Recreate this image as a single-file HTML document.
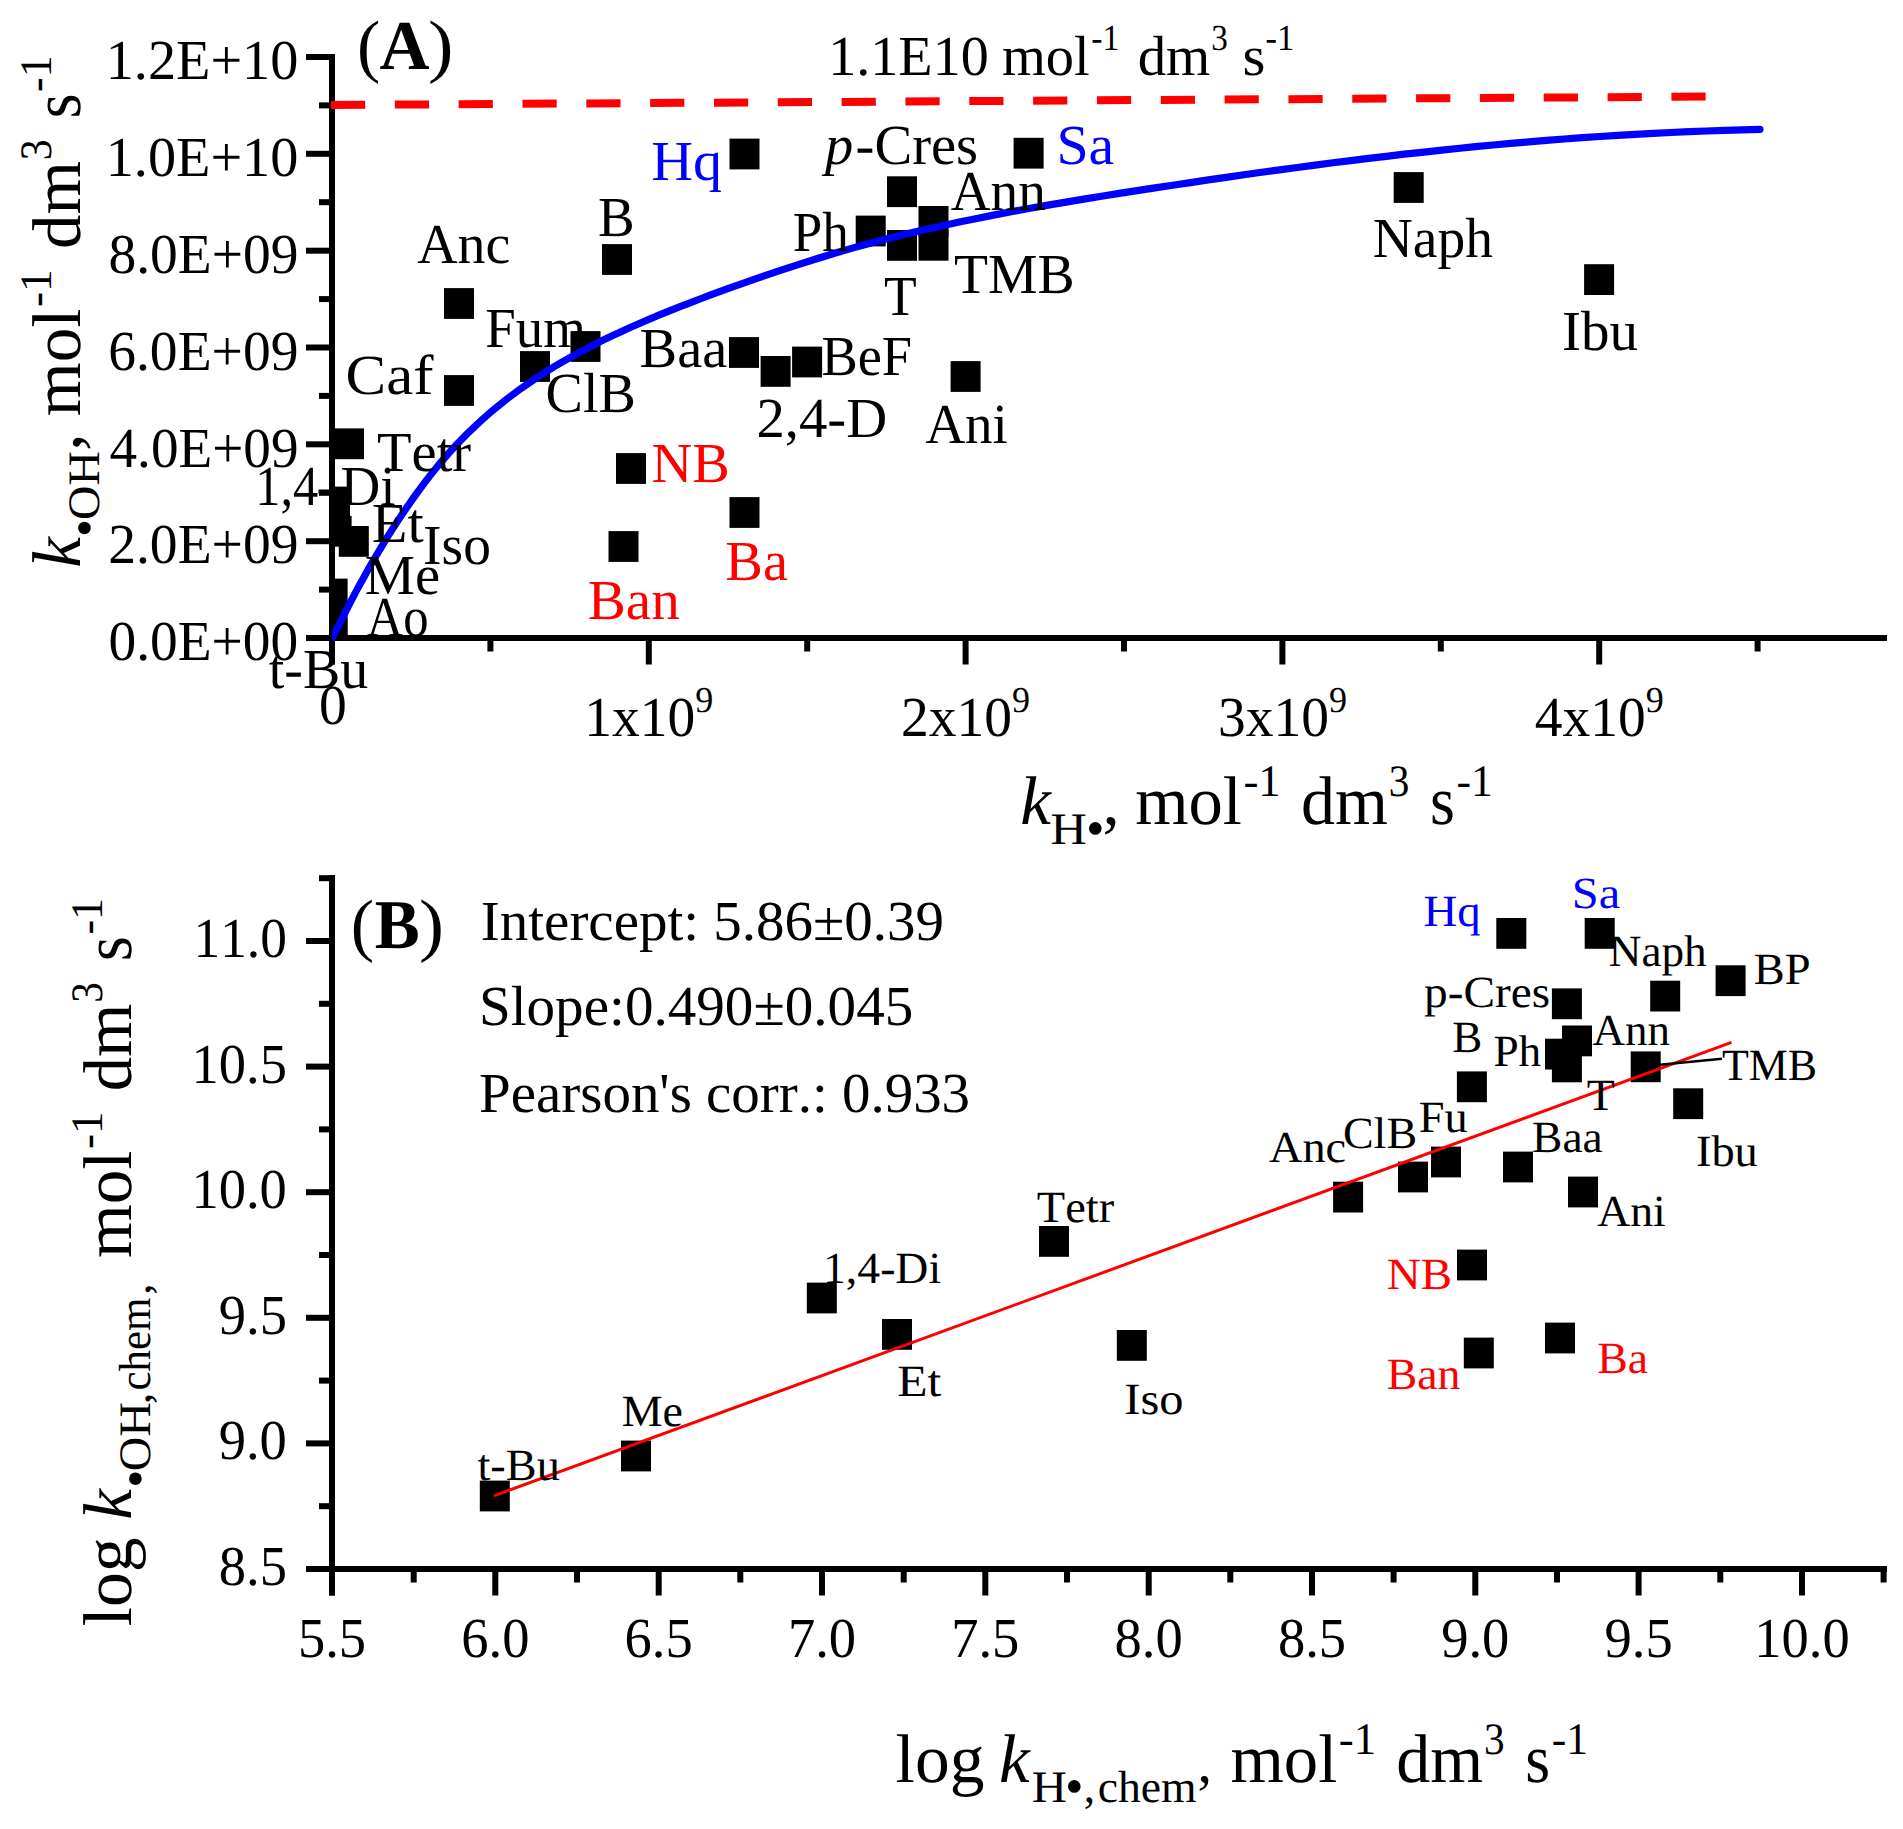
<!DOCTYPE html>
<html lang="en">
<head>
<meta charset="utf-8">
<title>Figure: rate constant correlations</title>
<style>
html,body{margin:0;padding:0;background:#fff;}
body{width:1903px;height:1829px;overflow:hidden;}
svg{display:block;font-family:"Liberation Serif", "DejaVu Serif", serif;font-kerning:none;}
svg text{white-space:pre;}
</style>
</head>
<body>
<svg width="1903" height="1829" viewBox="0 0 1903 1829" text-rendering="geometricPrecision">
<rect x="0" y="0" width="1903" height="1829" fill="#ffffff"/>
<g id="panelA">
<clipPath id="clipA"><rect x="332" y="40" width="1570" height="598"/></clipPath>
<g clip-path="url(#clipA)">
<rect x="729.5" y="138.6" width="30.0" height="30.8" fill="#000"/>
<rect x="602.0" y="244.1" width="30.0" height="30.8" fill="#000"/>
<rect x="444.0" y="288.1" width="30.0" height="30.8" fill="#000"/>
<rect x="444.0" y="375.1" width="30.0" height="30.8" fill="#000"/>
<rect x="520.0" y="351.1" width="30.0" height="30.8" fill="#000"/>
<rect x="570.5" y="331.1" width="30.0" height="30.8" fill="#000"/>
<rect x="729.0" y="337.1" width="30.0" height="30.8" fill="#000"/>
<rect x="760.6" y="356.0" width="30.0" height="30.8" fill="#000"/>
<rect x="792.1" y="346.6" width="30.0" height="30.8" fill="#000"/>
<rect x="855.7" y="215.6" width="30.0" height="30.8" fill="#000"/>
<rect x="887.0" y="176.3" width="30.0" height="30.8" fill="#000"/>
<rect x="887.0" y="230.0" width="30.0" height="30.8" fill="#000"/>
<rect x="918.5" y="206.0" width="30.0" height="30.8" fill="#000"/>
<rect x="918.5" y="229.9" width="30.0" height="30.8" fill="#000"/>
<rect x="334.0" y="428.4" width="30.0" height="30.8" fill="#000"/>
<rect x="1013.6" y="137.8" width="30.0" height="30.8" fill="#000"/>
<rect x="1393.7" y="172.1" width="30.0" height="30.8" fill="#000"/>
<rect x="1584.1" y="264.2" width="30.0" height="30.8" fill="#000"/>
<rect x="950.6" y="361.1" width="30.0" height="30.8" fill="#000"/>
<rect x="616.0" y="453.1" width="30.0" height="30.8" fill="#000"/>
<rect x="729.5" y="497.1" width="30.0" height="30.8" fill="#000"/>
<rect x="608.5" y="531.1" width="30.0" height="30.8" fill="#000"/>
<rect x="320.0" y="486.6" width="30.0" height="30.8" fill="#000"/>
<rect x="321.6" y="515.9" width="30.0" height="30.8" fill="#000"/>
<rect x="338.8" y="526.0" width="30.0" height="30.8" fill="#000"/>
<rect x="317.6" y="578.6" width="30.0" height="30.8" fill="#000"/>
<rect x="317.6" y="608.6" width="30.0" height="30.8" fill="#000"/>
<rect x="317.3" y="618.6" width="30.0" height="30.8" fill="#000"/>
</g>
<rect x="329.0" y="54.0" width="6.0" height="610.5" fill="#000"/>
<rect x="306.0" y="635.0" width="1581.0" height="6.0" fill="#000"/>
<rect x="306.0" y="54.0" width="24.0" height="6.0" fill="#000"/>
<rect x="319.0" y="102.4" width="11.0" height="6.0" fill="#000"/>
<rect x="306.0" y="150.8" width="24.0" height="6.0" fill="#000"/>
<rect x="319.0" y="199.2" width="11.0" height="6.0" fill="#000"/>
<rect x="306.0" y="247.7" width="24.0" height="6.0" fill="#000"/>
<rect x="319.0" y="296.1" width="11.0" height="6.0" fill="#000"/>
<rect x="306.0" y="344.5" width="24.0" height="6.0" fill="#000"/>
<rect x="319.0" y="392.9" width="11.0" height="6.0" fill="#000"/>
<rect x="306.0" y="441.3" width="24.0" height="6.0" fill="#000"/>
<rect x="319.0" y="489.8" width="11.0" height="6.0" fill="#000"/>
<rect x="306.0" y="538.2" width="24.0" height="6.0" fill="#000"/>
<rect x="319.0" y="586.6" width="11.0" height="6.0" fill="#000"/>
<rect x="306.0" y="635.0" width="24.0" height="6.0" fill="#000"/>
<rect x="329.0" y="638.0" width="6.0" height="26.5" fill="#000"/>
<rect x="487.4" y="638.0" width="6.0" height="13.5" fill="#000"/>
<rect x="645.8" y="638.0" width="6.0" height="26.5" fill="#000"/>
<rect x="804.2" y="638.0" width="6.0" height="13.5" fill="#000"/>
<rect x="962.6" y="638.0" width="6.0" height="26.5" fill="#000"/>
<rect x="1121.0" y="638.0" width="6.0" height="13.5" fill="#000"/>
<rect x="1279.4" y="638.0" width="6.0" height="26.5" fill="#000"/>
<rect x="1437.8" y="638.0" width="6.0" height="13.5" fill="#000"/>
<rect x="1596.2" y="638.0" width="6.0" height="26.5" fill="#000"/>
<rect x="1754.6" y="638.0" width="6.0" height="13.5" fill="#000"/>
<text x="105.7" y="79.2" font-size="56.5" textLength="192.7" lengthAdjust="spacingAndGlyphs" >1.2E+10</text>
<text x="105.7" y="176.0" font-size="56.5" textLength="192.7" lengthAdjust="spacingAndGlyphs" >1.0E+10</text>
<text x="108.5" y="272.9" font-size="56.5" textLength="190.0" lengthAdjust="spacingAndGlyphs" >8.0E+09</text>
<text x="108.2" y="369.7" font-size="56.5" textLength="190.3" lengthAdjust="spacingAndGlyphs" >6.0E+09</text>
<text x="109.5" y="466.5" font-size="56.5" textLength="189.0" lengthAdjust="spacingAndGlyphs" >4.0E+09</text>
<text x="108.2" y="563.4" font-size="56.5" textLength="190.3" lengthAdjust="spacingAndGlyphs" >2.0E+09</text>
<text x="108.5" y="660.2" font-size="56.5" textLength="189.8" lengthAdjust="spacingAndGlyphs" >0.0E+00</text>
<text x="318.9" y="724.3" font-size="56.5" textLength="27.8" lengthAdjust="spacingAndGlyphs" >0</text>
<text x="648.8" y="735.6" font-size="56.5" text-anchor="middle" textLength="129" lengthAdjust="spacingAndGlyphs">1x10<tspan dy="-24.1" font-size="36.7">9</tspan></text>
<text x="965.6" y="735.6" font-size="56.5" text-anchor="middle" textLength="129" lengthAdjust="spacingAndGlyphs">2x10<tspan dy="-24.1" font-size="36.7">9</tspan></text>
<text x="1282.4" y="735.6" font-size="56.5" text-anchor="middle" textLength="129" lengthAdjust="spacingAndGlyphs">3x10<tspan dy="-24.1" font-size="36.7">9</tspan></text>
<text x="1599.2" y="735.6" font-size="56.5" text-anchor="middle" textLength="129" lengthAdjust="spacingAndGlyphs">4x10<tspan dy="-24.1" font-size="36.7">9</tspan></text>
<line x1="331" y1="105" x2="1705.6" y2="96.6" stroke="#ff0000" stroke-width="8" stroke-dasharray="34.2 29.63"/>
<clipPath id="clipC"><rect x="332" y="40" width="1570" height="601"/></clipPath>
<polyline clip-path="url(#clipC)" points="332.0,638.0 338.2,626.2 344.5,613.8 350.7,601.7 356.9,589.8 363.2,578.4 369.4,567.3 375.7,556.5 381.9,546.1 388.1,535.9 394.4,526.1 400.6,516.6 406.8,507.4 413.1,498.4 419.3,489.8 425.6,481.4 431.8,473.4 438.0,465.7 444.3,458.3 450.5,451.2 456.7,444.5 463.0,438.0 469.2,431.8 475.5,425.8 481.7,420.1 487.9,414.6 494.2,409.3 500.4,404.2 506.6,399.3 512.9,394.5 519.1,389.9 525.4,385.5 531.6,381.2 537.8,377.0 544.1,373.0 550.3,369.1 556.5,365.3 562.8,361.7 569.0,358.1 575.3,354.6 581.5,351.3 587.7,348.0 594.0,344.8 600.2,341.6 606.4,338.6 612.7,335.6 618.9,332.7 625.2,329.8 631.4,327.0 637.6,324.2 643.9,321.5 650.1,318.9 656.3,316.2 662.6,313.7 668.8,311.1 675.1,308.6 681.3,306.2 687.5,303.8 693.8,301.4 700.0,299.0 710.0,295.2 727.8,288.7 745.6,282.4 763.4,276.2 781.2,270.1 799.0,264.3 816.8,258.7 834.6,253.3 852.4,248.1 870.2,243.2 888.0,238.5 905.8,234.1 923.6,229.9 941.4,225.9 959.2,222.1 976.9,218.4 994.7,214.9 1012.5,211.5 1030.3,208.3 1048.1,205.1 1065.9,202.1 1083.7,199.1 1101.5,196.2 1119.3,193.4 1137.1,190.6 1154.9,187.9 1172.7,185.2 1190.5,182.6 1208.3,179.9 1226.1,177.4 1243.9,174.8 1261.7,172.3 1279.5,169.9 1297.3,167.5 1315.1,165.1 1332.9,162.8 1350.7,160.6 1368.5,158.4 1386.3,156.3 1404.1,154.2 1421.9,152.3 1439.7,150.4 1457.5,148.5 1475.3,146.7 1493.1,145.0 1510.8,143.4 1528.6,141.9 1546.4,140.4 1564.2,139.0 1582.0,137.7 1599.8,136.5 1617.6,135.4 1635.4,134.3 1653.2,133.4 1671.0,132.5 1688.8,131.7 1706.6,131.0 1724.4,130.4 1742.2,129.9 1760.0,129.4" fill="none" stroke="#0000ff" stroke-width="7.2" stroke-linejoin="round" stroke-linecap="round"/>
<text x="651.2" y="179.9" font-size="56.5" fill="#0000ff" textLength="70.8" lengthAdjust="spacingAndGlyphs" >Hq</text>
<text x="1056.4" y="163.8" font-size="56.5" fill="#0000ff" textLength="57.9" lengthAdjust="spacingAndGlyphs" >Sa</text>
<text x="597.9" y="235.6" font-size="56.5" textLength="36.7" lengthAdjust="spacingAndGlyphs" >B</text>
<text x="417.2" y="263.0" font-size="56.5" textLength="93.0" lengthAdjust="spacingAndGlyphs" >Anc</text>
<text x="792.7" y="251.0" font-size="56.5" textLength="56.0" lengthAdjust="spacingAndGlyphs" >Ph</text>
<text x="950.7" y="210.4" font-size="56.5" textLength="95.1" lengthAdjust="spacingAndGlyphs" >Ann</text>
<text x="884.0" y="314.8" font-size="56.5" textLength="32.7" lengthAdjust="spacingAndGlyphs" >T</text>
<text x="954.0" y="292.6" font-size="56.5" textLength="120.7" lengthAdjust="spacingAndGlyphs" >TMB</text>
<text x="485.3" y="346.7" font-size="56.5" textLength="100.6" lengthAdjust="spacingAndGlyphs" >Fum</text>
<text x="639.6" y="366.8" font-size="56.5" textLength="87.7" lengthAdjust="spacingAndGlyphs" >Baa</text>
<text x="821.4" y="374.5" font-size="56.5" textLength="90.7" lengthAdjust="spacingAndGlyphs" >BeF</text>
<text x="345.6" y="393.6" font-size="56.5" textLength="87.9" lengthAdjust="spacingAndGlyphs" >Caf</text>
<text x="545.5" y="411.7" font-size="56.5" textLength="90.4" lengthAdjust="spacingAndGlyphs" >ClB</text>
<text x="756.4" y="437.1" font-size="56.5" textLength="130.8" lengthAdjust="spacingAndGlyphs" >2,4-D</text>
<text x="925.4" y="443.4" font-size="56.5" textLength="82.4" lengthAdjust="spacingAndGlyphs" >Ani</text>
<text x="377.1" y="470.6" font-size="56.5" textLength="94.1" lengthAdjust="spacingAndGlyphs" >Tetr</text>
<text x="651.5" y="481.5" font-size="56.5" fill="#ff0000" textLength="78.2" lengthAdjust="spacingAndGlyphs" >NB</text>
<text x="255.3" y="505.4" font-size="56.5" textLength="63.0" lengthAdjust="spacingAndGlyphs" >1,4</text>
<text x="316.3" y="505.4" font-size="56.5" textLength="19.9" lengthAdjust="spacingAndGlyphs" >-</text>
<text x="340.5" y="505.4" font-size="56.5" textLength="55.0" lengthAdjust="spacingAndGlyphs" >Di</text>
<text x="371.8" y="541.6" font-size="56.5" textLength="51.9" lengthAdjust="spacingAndGlyphs" >Et</text>
<text x="423.1" y="564.4" font-size="56.5" textLength="67.8" lengthAdjust="spacingAndGlyphs" >Iso</text>
<text x="364.7" y="594.3" font-size="56.5" textLength="75.3" lengthAdjust="spacingAndGlyphs" >Me</text>
<text x="366.8" y="636.0" font-size="56.5" textLength="61.9" lengthAdjust="spacingAndGlyphs" >Ao</text>
<text x="268.8" y="688.4" font-size="56.5" textLength="99.5" lengthAdjust="spacingAndGlyphs" >t-Bu</text>
<text x="725.3" y="580.1" font-size="56.5" fill="#ff0000" >Ba</text>
<text x="587.7" y="618.6" font-size="56.5" fill="#ff0000" textLength="92.0" lengthAdjust="spacingAndGlyphs" >Ban</text>
<text x="1372.8" y="256.5" font-size="56.5" textLength="120.2" lengthAdjust="spacingAndGlyphs" >Naph</text>
<text x="1562.0" y="349.8" font-size="56.5" textLength="76.0" lengthAdjust="spacingAndGlyphs" >Ibu</text>
<text x="824.9" y="164.4" font-size="56.5" font-style="italic" >p</text>
<text x="855.6" y="164.4" font-size="56.5" textLength="122.5" lengthAdjust="spacingAndGlyphs" >-Cres</text>
<text x="357.1" y="68.8" font-size="70" >(</text>
<text x="379.4" y="68.8" font-size="70" textLength="50.0" lengthAdjust="spacingAndGlyphs" font-weight="bold" >A</text>
<text x="428.1" y="68.8" font-size="70" textLength="25.5" lengthAdjust="spacingAndGlyphs" >)</text>
<text x="828.2" y="74.7" font-size="56.5" textLength="160.6" lengthAdjust="spacingAndGlyphs" >1.1E10</text>
<text x="1002.0" y="74.7" font-size="56.5" textLength="87.7" lengthAdjust="spacingAndGlyphs" >mol</text>
<text x="1091.2" y="50.2" font-size="36.7" textLength="28.2" lengthAdjust="spacingAndGlyphs" >-1</text>
<text x="1137.7" y="74.7" font-size="56.5" textLength="72.6" lengthAdjust="spacingAndGlyphs" >dm</text>
<text x="1211.2" y="50.2" font-size="36.7" textLength="16.6" lengthAdjust="spacingAndGlyphs" >3</text>
<text x="1242.4" y="74.7" font-size="56.5" textLength="22.9" lengthAdjust="spacingAndGlyphs" >s</text>
<text x="1265.4" y="50.2" font-size="36.7" textLength="28.8" lengthAdjust="spacingAndGlyphs" >-1</text>
<text x="1020.2" y="824.4" font-size="69" font-style="italic" >k</text>
<text x="1050.6" y="843.7" font-size="45" textLength="36.3" lengthAdjust="spacingAndGlyphs" >H</text>
<text x="1085.9" y="846.4" font-size="53.1" >•</text>
<text x="1102.4" y="824.4" font-size="69" >,</text>
<text x="1135.2" y="824.4" font-size="69" textLength="106.7" lengthAdjust="spacingAndGlyphs" >mol</text>
<text x="1243.4" y="795.5" font-size="45" textLength="37.4" lengthAdjust="spacingAndGlyphs" >-1</text>
<text x="1300.9" y="824.4" font-size="69" textLength="87.0" lengthAdjust="spacingAndGlyphs" >dm</text>
<text x="1388.8" y="795.5" font-size="45" textLength="20.6" lengthAdjust="spacingAndGlyphs" >3</text>
<text x="1430.0" y="824.4" font-size="69" textLength="24.9" lengthAdjust="spacingAndGlyphs" >s</text>
<text x="1456.5" y="795.5" font-size="45" textLength="36.3" lengthAdjust="spacingAndGlyphs" >-1</text>
<g transform="translate(79.6,565.6) rotate(-90)">
<text x="-2.1" y="0.0" font-size="69" font-style="italic" >k</text>
<text x="28.3" y="22.0" font-size="53.1" >•</text>
<text x="45.7" y="19.3" font-size="45" textLength="68.8" lengthAdjust="spacingAndGlyphs" >OH</text>
<text x="114.9" y="0.0" font-size="69" >,</text>
<text x="149.4" y="0.0" font-size="69" textLength="107.7" lengthAdjust="spacingAndGlyphs" >mol</text>
<text x="258.6" y="-28.9" font-size="45" textLength="37.7" lengthAdjust="spacingAndGlyphs" >-1</text>
<text x="316.7" y="0.0" font-size="69" textLength="87.8" lengthAdjust="spacingAndGlyphs" >dm</text>
<text x="405.4" y="-28.9" font-size="45" textLength="20.8" lengthAdjust="spacingAndGlyphs" >3</text>
<text x="447.0" y="0.0" font-size="69" textLength="25.1" lengthAdjust="spacingAndGlyphs" >s</text>
<text x="473.7" y="-28.9" font-size="45" textLength="36.6" lengthAdjust="spacingAndGlyphs" >-1</text>
</g>
</g>
<g id="panelB">
<rect x="1496.3" y="918.0" width="30.0" height="30.8" fill="#000"/>
<rect x="1584.7" y="918.0" width="30.0" height="30.8" fill="#000"/>
<rect x="1715.6" y="965.3" width="30.0" height="30.8" fill="#000"/>
<rect x="1650.2" y="980.7" width="30.0" height="30.8" fill="#000"/>
<rect x="1551.9" y="988.4" width="30.0" height="30.8" fill="#000"/>
<rect x="1562.0" y="1025.5" width="30.0" height="30.8" fill="#000"/>
<rect x="1545.0" y="1038.7" width="30.0" height="30.8" fill="#000"/>
<rect x="1551.9" y="1051.5" width="30.0" height="30.8" fill="#000"/>
<rect x="1630.7" y="1051.4" width="30.0" height="30.8" fill="#000"/>
<rect x="1456.9" y="1071.4" width="30.0" height="30.8" fill="#000"/>
<rect x="1673.2" y="1088.3" width="30.0" height="30.8" fill="#000"/>
<rect x="1431.0" y="1146.6" width="30.0" height="30.8" fill="#000"/>
<rect x="1398.0" y="1161.6" width="30.0" height="30.8" fill="#000"/>
<rect x="1503.0" y="1151.6" width="30.0" height="30.8" fill="#000"/>
<rect x="1333.1" y="1181.7" width="30.0" height="30.8" fill="#000"/>
<rect x="1568.0" y="1176.6" width="30.0" height="30.8" fill="#000"/>
<rect x="1039.0" y="1226.0" width="30.0" height="30.8" fill="#000"/>
<rect x="1457.0" y="1249.6" width="30.0" height="30.8" fill="#000"/>
<rect x="1116.8" y="1330.0" width="30.0" height="30.8" fill="#000"/>
<rect x="1463.8" y="1337.6" width="30.0" height="30.8" fill="#000"/>
<rect x="1545.0" y="1322.6" width="30.0" height="30.8" fill="#000"/>
<rect x="806.8" y="1282.6" width="30.0" height="30.8" fill="#000"/>
<rect x="882.0" y="1319.0" width="30.0" height="30.8" fill="#000"/>
<rect x="621.0" y="1440.6" width="30.0" height="30.8" fill="#000"/>
<rect x="479.8" y="1480.6" width="30.0" height="30.8" fill="#000"/>
<line x1="494" y1="1495.8" x2="1731.5" y2="1042.3" stroke="#ff0000" stroke-width="3"/>
<line x1="1660" y1="1064.8" x2="1722" y2="1058.7" stroke="#000" stroke-width="2.4"/>
<rect x="329.0" y="875.0" width="6.0" height="720.5" fill="#000"/>
<rect x="306.0" y="1566.0" width="1581.0" height="6.0" fill="#000"/>
<rect x="306.0" y="1566.0" width="24.0" height="6.0" fill="#000"/>
<rect x="319.0" y="1503.2" width="11.0" height="6.0" fill="#000"/>
<rect x="306.0" y="1440.4" width="24.0" height="6.0" fill="#000"/>
<rect x="319.0" y="1377.6" width="11.0" height="6.0" fill="#000"/>
<rect x="306.0" y="1314.8" width="24.0" height="6.0" fill="#000"/>
<rect x="319.0" y="1252.0" width="11.0" height="6.0" fill="#000"/>
<rect x="306.0" y="1189.2" width="24.0" height="6.0" fill="#000"/>
<rect x="319.0" y="1126.4" width="11.0" height="6.0" fill="#000"/>
<rect x="306.0" y="1063.6" width="24.0" height="6.0" fill="#000"/>
<rect x="319.0" y="1000.8" width="11.0" height="6.0" fill="#000"/>
<rect x="306.0" y="938.0" width="24.0" height="6.0" fill="#000"/>
<rect x="319.0" y="875.2" width="11.0" height="6.0" fill="#000"/>
<rect x="329.0" y="1569.0" width="6.0" height="26.5" fill="#000"/>
<rect x="410.7" y="1569.0" width="6.0" height="13.5" fill="#000"/>
<rect x="492.3" y="1569.0" width="6.0" height="26.5" fill="#000"/>
<rect x="574.0" y="1569.0" width="6.0" height="13.5" fill="#000"/>
<rect x="655.7" y="1569.0" width="6.0" height="26.5" fill="#000"/>
<rect x="737.3" y="1569.0" width="6.0" height="13.5" fill="#000"/>
<rect x="819.0" y="1569.0" width="6.0" height="26.5" fill="#000"/>
<rect x="900.7" y="1569.0" width="6.0" height="13.5" fill="#000"/>
<rect x="982.3" y="1569.0" width="6.0" height="26.5" fill="#000"/>
<rect x="1064.0" y="1569.0" width="6.0" height="13.5" fill="#000"/>
<rect x="1145.7" y="1569.0" width="6.0" height="26.5" fill="#000"/>
<rect x="1227.3" y="1569.0" width="6.0" height="13.5" fill="#000"/>
<rect x="1309.0" y="1569.0" width="6.0" height="26.5" fill="#000"/>
<rect x="1390.6" y="1569.0" width="6.0" height="13.5" fill="#000"/>
<rect x="1472.3" y="1569.0" width="6.0" height="26.5" fill="#000"/>
<rect x="1554.0" y="1569.0" width="6.0" height="13.5" fill="#000"/>
<rect x="1635.6" y="1569.0" width="6.0" height="26.5" fill="#000"/>
<rect x="1717.3" y="1569.0" width="6.0" height="13.5" fill="#000"/>
<rect x="1799.0" y="1569.0" width="6.0" height="26.5" fill="#000"/>
<rect x="1880.6" y="1569.0" width="6.0" height="13.5" fill="#000"/>
<text x="218.8" y="1585.0" font-size="56.5" textLength="68.2" lengthAdjust="spacingAndGlyphs" >8.5</text>
<text x="218.7" y="1459.4" font-size="56.5" textLength="68.2" lengthAdjust="spacingAndGlyphs" >9.0</text>
<text x="218.8" y="1333.8" font-size="56.5" textLength="68.2" lengthAdjust="spacingAndGlyphs" >9.5</text>
<text x="191.4" y="1208.2" font-size="56.5" textLength="95.4" lengthAdjust="spacingAndGlyphs" >10.0</text>
<text x="191.6" y="1082.6" font-size="56.5" textLength="95.4" lengthAdjust="spacingAndGlyphs" >10.5</text>
<text x="193.5" y="957.0" font-size="56.5" textLength="93.4" lengthAdjust="spacingAndGlyphs" >11.0</text>
<text x="297.9" y="1657.0" font-size="56.5" textLength="68.2" lengthAdjust="spacingAndGlyphs" >5.5</text>
<text x="461.3" y="1657.0" font-size="56.5" textLength="68.2" lengthAdjust="spacingAndGlyphs" >6.0</text>
<text x="624.6" y="1657.0" font-size="56.5" textLength="68.2" lengthAdjust="spacingAndGlyphs" >6.5</text>
<text x="787.9" y="1657.0" font-size="56.5" textLength="68.2" lengthAdjust="spacingAndGlyphs" >7.0</text>
<text x="951.2" y="1657.0" font-size="56.5" textLength="68.2" lengthAdjust="spacingAndGlyphs" >7.5</text>
<text x="1114.6" y="1657.0" font-size="56.5" textLength="68.2" lengthAdjust="spacingAndGlyphs" >8.0</text>
<text x="1277.9" y="1657.0" font-size="56.5" textLength="68.2" lengthAdjust="spacingAndGlyphs" >8.5</text>
<text x="1441.2" y="1657.0" font-size="56.5" textLength="68.2" lengthAdjust="spacingAndGlyphs" >9.0</text>
<text x="1604.6" y="1657.0" font-size="56.5" textLength="68.2" lengthAdjust="spacingAndGlyphs" >9.5</text>
<text x="1754.3" y="1657.0" font-size="56.5" textLength="95.4" lengthAdjust="spacingAndGlyphs" >10.0</text>
<text x="1423.4" y="926.0" font-size="44.5" fill="#0000ff" textLength="57.2" lengthAdjust="spacingAndGlyphs" >Hq</text>
<text x="1571.7" y="907.6" font-size="44.5" fill="#0000ff" textLength="48.5" lengthAdjust="spacingAndGlyphs" >Sa</text>
<text x="1608.8" y="966.0" font-size="44.5" textLength="97.9" lengthAdjust="spacingAndGlyphs" >Naph</text>
<text x="1753.7" y="984.0" font-size="44.5" textLength="56.9" lengthAdjust="spacingAndGlyphs" >BP</text>
<text x="1424.0" y="1006.7" font-size="44.5" textLength="126.1" lengthAdjust="spacingAndGlyphs" >p-Cres</text>
<text x="1592.5" y="1044.7" font-size="44.5" textLength="77.5" lengthAdjust="spacingAndGlyphs" >Ann</text>
<text x="1452.3" y="1051.5" font-size="44.5" textLength="30.0" lengthAdjust="spacingAndGlyphs" >B</text>
<text x="1493.4" y="1066.0" font-size="44.5" textLength="47.8" lengthAdjust="spacingAndGlyphs" >Ph</text>
<text x="1721.9" y="1080.4" font-size="44.5" textLength="95.2" lengthAdjust="spacingAndGlyphs" >TMB</text>
<text x="1586.8" y="1110.0" font-size="44.5" textLength="28.1" lengthAdjust="spacingAndGlyphs" >T</text>
<text x="1418.7" y="1131.7" font-size="44.5" textLength="48.9" lengthAdjust="spacingAndGlyphs" >Fu</text>
<text x="1342.9" y="1147.5" font-size="44.5" textLength="74.2" lengthAdjust="spacingAndGlyphs" >ClB</text>
<text x="1269.0" y="1161.5" font-size="44.5" textLength="77.1" lengthAdjust="spacingAndGlyphs" >Anc</text>
<text x="1532.1" y="1151.8" font-size="44.5" textLength="70.6" lengthAdjust="spacingAndGlyphs" >Baa</text>
<text x="1696.0" y="1166.0" font-size="44.5" textLength="61.8" lengthAdjust="spacingAndGlyphs" >Ibu</text>
<text x="1597.3" y="1226.0" font-size="44.5" textLength="68.5" lengthAdjust="spacingAndGlyphs" >Ani</text>
<text x="1036.8" y="1221.6" font-size="44.5" textLength="77.3" lengthAdjust="spacingAndGlyphs" >Tetr</text>
<text x="1386.7" y="1288.5" font-size="44.5" fill="#ff0000" textLength="65.3" lengthAdjust="spacingAndGlyphs" >NB</text>
<text x="1124.3" y="1414.0" font-size="44.5" textLength="59.3" lengthAdjust="spacingAndGlyphs" >Iso</text>
<text x="1386.7" y="1389.0" font-size="44.5" fill="#ff0000" textLength="73.8" lengthAdjust="spacingAndGlyphs" >Ban</text>
<text x="1597.2" y="1372.7" font-size="44.5" fill="#ff0000" textLength="50.9" lengthAdjust="spacingAndGlyphs" >Ba</text>
<text x="823.0" y="1282.7" font-size="44.5" textLength="118.1" lengthAdjust="spacingAndGlyphs" >1,4-Di</text>
<text x="897.2" y="1395.8" font-size="44.5" textLength="44.1" lengthAdjust="spacingAndGlyphs" >Et</text>
<text x="621.7" y="1426.0" font-size="44.5" textLength="61.3" lengthAdjust="spacingAndGlyphs" >Me</text>
<text x="477.5" y="1479.7" font-size="44.5" textLength="82.3" lengthAdjust="spacingAndGlyphs" >t-Bu</text>
<text x="350.7" y="947.8" font-size="70" >(</text>
<text x="374.8" y="947.8" font-size="70" textLength="45.0" lengthAdjust="spacingAndGlyphs" font-weight="bold" >B</text>
<text x="419.1" y="947.8" font-size="70" textLength="25.0" lengthAdjust="spacingAndGlyphs" >)</text>
<text x="480.8" y="939.8" font-size="56.5" textLength="463.3" lengthAdjust="spacingAndGlyphs" >Intercept: 5.86±0.39</text>
<text x="478.9" y="1025.2" font-size="56.5" textLength="434.4" lengthAdjust="spacingAndGlyphs" >Slope:0.490±0.045</text>
<text x="479.1" y="1111.6" font-size="56.5" textLength="491.0" lengthAdjust="spacingAndGlyphs" >Pearson's corr.: 0.933</text>
<text x="895.6" y="1782.4" font-size="69" textLength="88.8" lengthAdjust="spacingAndGlyphs" >log</text>
<text x="998.9" y="1782.4" font-size="69" font-style="italic" >k</text>
<text x="1031.7" y="1801.7" font-size="45" textLength="35.2" lengthAdjust="spacingAndGlyphs" >H</text>
<text x="1065.1" y="1804.4" font-size="53.1" >•</text>
<text x="1083.7" y="1801.7" font-size="45" >,</text>
<text x="1097.7" y="1801.7" font-size="45" textLength="99.0" lengthAdjust="spacingAndGlyphs" >chem</text>
<text x="1197.5" y="1782.4" font-size="58" >,</text>
<text x="1230.5" y="1782.4" font-size="69" textLength="106.7" lengthAdjust="spacingAndGlyphs" >mol</text>
<text x="1338.7" y="1753.5" font-size="45" textLength="37.4" lengthAdjust="spacingAndGlyphs" >-1</text>
<text x="1396.2" y="1782.4" font-size="69" textLength="87.0" lengthAdjust="spacingAndGlyphs" >dm</text>
<text x="1484.1" y="1753.5" font-size="45" textLength="20.6" lengthAdjust="spacingAndGlyphs" >3</text>
<text x="1525.3" y="1782.4" font-size="69" textLength="24.9" lengthAdjust="spacingAndGlyphs" >s</text>
<text x="1551.8" y="1753.5" font-size="45" textLength="36.3" lengthAdjust="spacingAndGlyphs" >-1</text>
<g transform="translate(130.5,1625) rotate(-90)">
<text x="-1.4" y="0.0" font-size="69" textLength="89.1" lengthAdjust="spacingAndGlyphs" >log</text>
<text x="105.2" y="0.0" font-size="69" font-style="italic" >k</text>
<text x="137.1" y="22.0" font-size="53.1" >•</text>
<text x="153.8" y="19.3" font-size="45" textLength="69.1" lengthAdjust="spacingAndGlyphs" >OH</text>
<text x="220.9" y="19.3" font-size="45" >,</text>
<text x="234.4" y="19.3" font-size="45" textLength="92.9" lengthAdjust="spacingAndGlyphs" >chem</text>
<text x="330.3" y="19.3" font-size="45" >,</text>
<text x="367.1" y="0.0" font-size="69" textLength="107.4" lengthAdjust="spacingAndGlyphs" >mol</text>
<text x="476.0" y="-28.9" font-size="45" textLength="37.6" lengthAdjust="spacingAndGlyphs" >-1</text>
<text x="533.8" y="0.0" font-size="69" textLength="87.6" lengthAdjust="spacingAndGlyphs" >dm</text>
<text x="622.3" y="-28.9" font-size="45" textLength="20.7" lengthAdjust="spacingAndGlyphs" >3</text>
<text x="663.8" y="0.0" font-size="69" textLength="25.1" lengthAdjust="spacingAndGlyphs" >s</text>
<text x="690.4" y="-28.9" font-size="45" textLength="36.5" lengthAdjust="spacingAndGlyphs" >-1</text>
</g>
</g>
</svg>
</body>
</html>
